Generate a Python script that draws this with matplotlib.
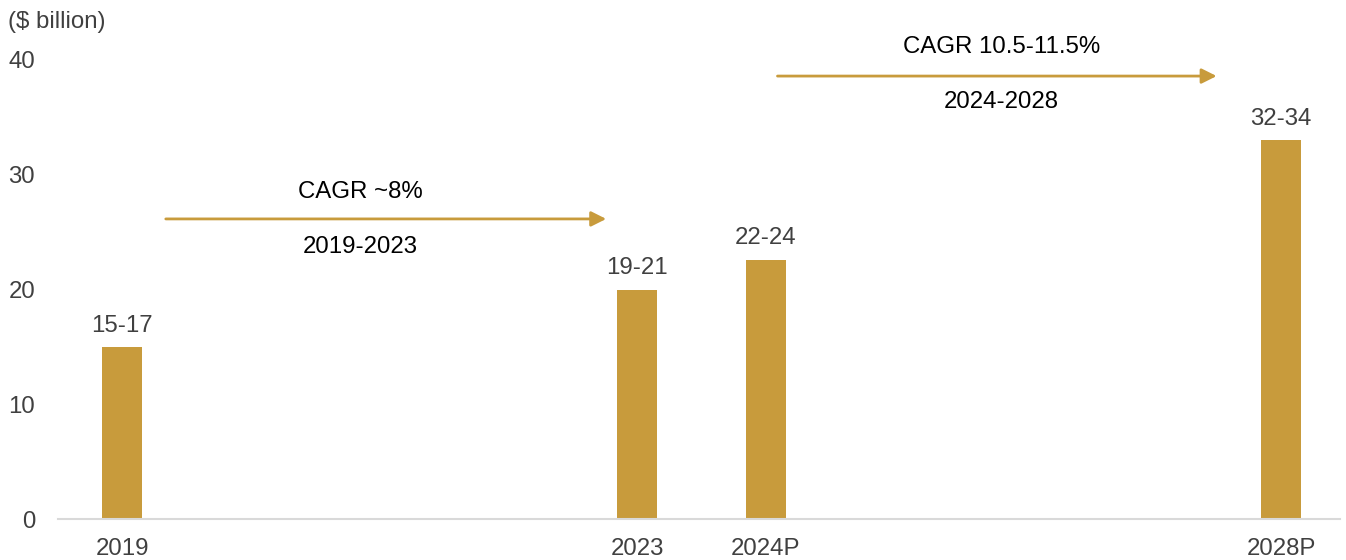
import matplotlib
matplotlib.use("Agg")
import matplotlib.pyplot as plt

# Data
years = [2019, 2023, 2024, 2028]
tick_labels = ["2019", "2023", "2024P", "2028P"]
values = [15.0, 20.0, 22.6, 33.0]
value_labels = ["15-17", "19-21", "22-24", "32-34"]
cagr_periods = [(2019, 2023), (2024, 2028)]
cagr_texts = ["CAGR ~8%", "CAGR 10.5-11.5%"]
period_texts = ["2019-2023", "2024-2028"]

BAR = "#C89B3C"
TXT = "#404040"
FS = 17.25

plt.rcParams["font.family"] = ["Liberation Sans", "DejaVu Sans"]

fig = plt.figure(figsize=(13.46, 5.6), dpi=100)
ax = fig.add_axes([58 / 1346, 41 / 560, (1340 - 58) / 1346, (519 - 60) / 560])

ax.bar(years, values, width=0.31, color=BAR, zorder=2)

for x, v, lab in zip(years, values, value_labels):
    ax.annotate(lab, (x, v), xytext=(0, 11), textcoords="offset points",
                ha="center", va="baseline", fontsize=FS, color=TXT)

# CAGR arrows and text
arrow_geom = [
    # (x_start, x_end, y_arrow, x_text, y_top_text, y_bottom_text)
    (2019.34, 2022.76, 26.15, 2020.85, 28.5, 23.7),
    (2024.09, 2027.50, 38.6, 2025.83, 41.1, 36.35),
]
for (xs, xe, ya, xc, yt, yb), ct, pt in zip(arrow_geom, cagr_texts, period_texts):
    ax.annotate("", xy=(xe, ya), xytext=(xs, ya),
                arrowprops=dict(arrowstyle="-|>,head_length=0.9,head_width=0.45",
                                color=BAR, lw=2, shrinkA=0, shrinkB=0),
                annotation_clip=False)
    ax.text(xc, yt, ct, ha="center", va="center", fontsize=FS, color="black", clip_on=False)
    ax.text(xc, yb, pt, ha="center", va="center", fontsize=FS, color="black", clip_on=False)

ax.set_xlim(2018.503, 2028.458)
ax.set_ylim(0, 40)
ax.set_yticks([0, 10, 20, 30, 40])
ax.set_xticks(years)
ax.set_xticklabels(tick_labels)
ax.tick_params(axis="both", length=0, labelsize=FS, labelcolor=TXT)
ax.tick_params(axis="y", pad=16.5)
ax.tick_params(axis="x", pad=14)

for s in ["top", "right", "left"]:
    ax.spines[s].set_visible(False)
ax.spines["bottom"].set_color("#D9D9D9")
ax.spines["bottom"].set_linewidth(1.5)

fig.text(8 / 1346, 1 - 22 / 560, "($ billion)", ha="left", va="center", fontsize=FS, color=TXT)

fig.savefig("out.png", dpi=100)
